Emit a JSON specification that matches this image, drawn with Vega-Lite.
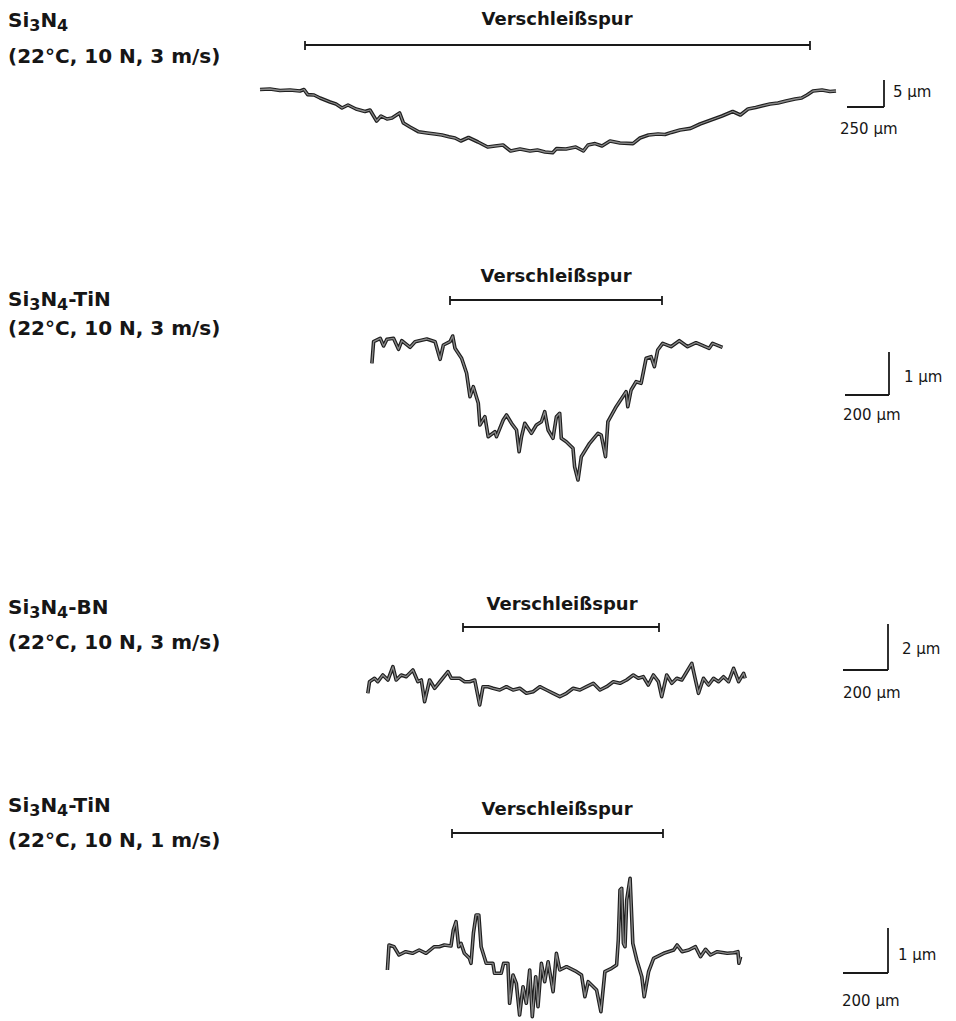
{
  "$schema": "https://vega.github.io/schema/vega-lite/v6.json",
  "width": 956,
  "height": 1021,
  "autosize": {"type": "none"},
  "padding": 0,
  "background": "white",
  "config": {"view": {"stroke": null}},
  "datasets": {
    "traces": [
      {"panel":1,"i":1,"x":260,"y":89.5},{"panel":1,"i":2,"x":270,"y":89},{"panel":1,"i":3,"x":280,"y":90.5},{"panel":1,"i":4,"x":290,"y":90},{"panel":1,"i":5,"x":300,"y":91},{"panel":1,"i":6,"x":304,"y":89.5},{"panel":1,"i":7,"x":307.7,"y":94.6},{"panel":1,"i":8,"x":314,"y":95},{"panel":1,"i":9,"x":320,"y":98},{"panel":1,"i":10,"x":330,"y":102},{"panel":1,"i":11,"x":336,"y":104},{"panel":1,"i":12,"x":342,"y":108},{"panel":1,"i":13,"x":348,"y":105},{"panel":1,"i":14,"x":356,"y":109},{"panel":1,"i":15,"x":365,"y":111.5},{"panel":1,"i":16,"x":370,"y":110},{"panel":1,"i":17,"x":376.6,"y":121},{"panel":1,"i":18,"x":381,"y":116},{"panel":1,"i":19,"x":387,"y":119},{"panel":1,"i":20,"x":392,"y":118},{"panel":1,"i":21,"x":399.6,"y":113},{"panel":1,"i":22,"x":403.4,"y":123},{"panel":1,"i":23,"x":410,"y":127},{"panel":1,"i":24,"x":418.7,"y":131.8},{"panel":1,"i":25,"x":427,"y":133},{"panel":1,"i":26,"x":435,"y":134},{"panel":1,"i":27,"x":442,"y":135},{"panel":1,"i":28,"x":449,"y":136.8},{"panel":1,"i":29,"x":455,"y":138},{"panel":1,"i":30,"x":460.8,"y":141},{"panel":1,"i":31,"x":468.5,"y":137.5},{"panel":1,"i":32,"x":478,"y":142},{"panel":1,"i":33,"x":487.6,"y":147},{"panel":1,"i":34,"x":495,"y":146},{"panel":1,"i":35,"x":503,"y":145},{"panel":1,"i":36,"x":510.6,"y":151},{"panel":1,"i":37,"x":520,"y":149},{"panel":1,"i":38,"x":530,"y":151},{"panel":1,"i":39,"x":537.4,"y":150},{"panel":1,"i":40,"x":545,"y":152},{"panel":1,"i":41,"x":552.7,"y":152.7},{"panel":1,"i":42,"x":556.6,"y":148.6},{"panel":1,"i":43,"x":566,"y":149},{"panel":1,"i":44,"x":575.7,"y":147},{"panel":1,"i":45,"x":583.4,"y":151},{"panel":1,"i":46,"x":588,"y":145},{"panel":1,"i":47,"x":595,"y":143.6},{"panel":1,"i":48,"x":602,"y":146},{"panel":1,"i":49,"x":610,"y":141},{"panel":1,"i":50,"x":620,"y":143},{"panel":1,"i":51,"x":633,"y":143.6},{"panel":1,"i":52,"x":640,"y":138},{"panel":1,"i":53,"x":648.5,"y":135},{"panel":1,"i":54,"x":658,"y":134},{"panel":1,"i":55,"x":665,"y":134.5},{"panel":1,"i":56,"x":671.4,"y":132.4},{"panel":1,"i":57,"x":680,"y":130},{"panel":1,"i":58,"x":690.6,"y":128.4},{"panel":1,"i":59,"x":700,"y":124},{"panel":1,"i":60,"x":711,"y":120},{"panel":1,"i":61,"x":722,"y":116},{"panel":1,"i":62,"x":732.7,"y":111.5},{"panel":1,"i":63,"x":740.4,"y":115},{"panel":1,"i":64,"x":748,"y":109},{"panel":1,"i":65,"x":755.7,"y":107.4},{"panel":1,"i":66,"x":770,"y":104},{"panel":1,"i":67,"x":778,"y":103},{"panel":1,"i":68,"x":786,"y":101},{"panel":1,"i":69,"x":795,"y":99},{"panel":1,"i":70,"x":801.6,"y":98},{"panel":1,"i":71,"x":807,"y":95},{"panel":1,"i":72,"x":813,"y":91},{"panel":1,"i":73,"x":822,"y":90},{"panel":1,"i":74,"x":830,"y":91.5},{"panel":1,"i":75,"x":836,"y":91},

      {"panel":2,"i":1,"x":371.9,"y":363.3},{"panel":2,"i":2,"x":373.6,"y":341.7},{"panel":2,"i":3,"x":380.2,"y":338.3},{"panel":2,"i":4,"x":383.6,"y":346},{"panel":2,"i":5,"x":386.9,"y":339.3},{"panel":2,"i":6,"x":393.5,"y":338.3},{"panel":2,"i":7,"x":398.5,"y":349.3},{"panel":2,"i":8,"x":401.8,"y":340.7},{"panel":2,"i":9,"x":410.1,"y":347.3},{"panel":2,"i":10,"x":415.1,"y":341.7},{"panel":2,"i":11,"x":426.8,"y":339},{"panel":2,"i":12,"x":435.1,"y":341.7},{"panel":2,"i":13,"x":440.1,"y":359.3},{"panel":2,"i":14,"x":443.4,"y":345},{"panel":2,"i":15,"x":450,"y":341.7},{"panel":2,"i":16,"x":452.7,"y":336},{"panel":2,"i":17,"x":455,"y":348.3},{"panel":2,"i":18,"x":461.6,"y":358.3},{"panel":2,"i":19,"x":466.6,"y":373.3},{"panel":2,"i":20,"x":470,"y":396.7},{"panel":2,"i":21,"x":473.3,"y":386.7},{"panel":2,"i":22,"x":478.3,"y":403.3},{"panel":2,"i":23,"x":479.9,"y":425},{"panel":2,"i":24,"x":484.9,"y":416.7},{"panel":2,"i":25,"x":488.2,"y":436.7},{"panel":2,"i":26,"x":494.9,"y":431.7},{"panel":2,"i":27,"x":496.5,"y":436.7},{"panel":2,"i":28,"x":503.2,"y":420},{"panel":2,"i":29,"x":506.5,"y":415},{"panel":2,"i":30,"x":511.5,"y":423.3},{"panel":2,"i":31,"x":516.5,"y":430},{"panel":2,"i":32,"x":519.1,"y":451.7},{"panel":2,"i":33,"x":521.5,"y":436.7},{"panel":2,"i":34,"x":524.8,"y":423.3},{"panel":2,"i":35,"x":531.4,"y":433.3},{"panel":2,"i":36,"x":536.4,"y":425},{"panel":2,"i":37,"x":541.4,"y":421.7},{"panel":2,"i":38,"x":544.7,"y":411.7},{"panel":2,"i":39,"x":548.1,"y":430},{"panel":2,"i":40,"x":553,"y":438.3},{"panel":2,"i":41,"x":556.4,"y":416.7},{"panel":2,"i":42,"x":559.7,"y":413.3},{"panel":2,"i":43,"x":561.3,"y":438.3},{"panel":2,"i":44,"x":566.3,"y":441.7},{"panel":2,"i":45,"x":573,"y":448.3},{"panel":2,"i":46,"x":574.6,"y":466.7},{"panel":2,"i":47,"x":578,"y":480},{"panel":2,"i":48,"x":581.3,"y":456.7},{"panel":2,"i":49,"x":589.6,"y":443.3},{"panel":2,"i":50,"x":597.9,"y":433.3},{"panel":2,"i":51,"x":601.2,"y":435},{"panel":2,"i":52,"x":605.5,"y":456.7},{"panel":2,"i":53,"x":607.9,"y":421.7},{"panel":2,"i":54,"x":616.2,"y":406.7},{"panel":2,"i":55,"x":622.8,"y":396.7},{"panel":2,"i":56,"x":626.1,"y":391.7},{"panel":2,"i":57,"x":627.8,"y":406.7},{"panel":2,"i":58,"x":631.1,"y":390},{"panel":2,"i":59,"x":636.1,"y":381.7},{"panel":2,"i":60,"x":641.1,"y":383.3},{"panel":2,"i":61,"x":646.1,"y":358.3},{"panel":2,"i":62,"x":651.1,"y":356.7},{"panel":2,"i":63,"x":654.4,"y":366.7},{"panel":2,"i":64,"x":657.7,"y":350},{"panel":2,"i":65,"x":662.7,"y":343.3},{"panel":2,"i":66,"x":671,"y":346.7},{"panel":2,"i":67,"x":679.3,"y":340.7},{"panel":2,"i":68,"x":687.6,"y":346.7},{"panel":2,"i":69,"x":696,"y":342.7},{"panel":2,"i":70,"x":709.2,"y":348.3},{"panel":2,"i":71,"x":712.6,"y":343.3},{"panel":2,"i":72,"x":722.5,"y":347.3},

      {"panel":3,"i":1,"x":367.8,"y":693.3},{"panel":3,"i":2,"x":369.5,"y":681.7},{"panel":3,"i":3,"x":374.5,"y":678.3},{"panel":3,"i":4,"x":377.8,"y":681.7},{"panel":3,"i":5,"x":382.8,"y":675},{"panel":3,"i":6,"x":387.9,"y":680},{"panel":3,"i":7,"x":392.9,"y":666.7},{"panel":3,"i":8,"x":396.2,"y":680},{"panel":3,"i":9,"x":401.2,"y":675},{"panel":3,"i":10,"x":406.2,"y":676.7},{"panel":3,"i":11,"x":412.9,"y":670},{"panel":3,"i":12,"x":417.9,"y":681.7},{"panel":3,"i":13,"x":421.3,"y":680},{"panel":3,"i":14,"x":424.6,"y":701.7},{"panel":3,"i":15,"x":429.6,"y":680},{"panel":3,"i":16,"x":434.6,"y":688.3},{"panel":3,"i":17,"x":441.3,"y":680},{"panel":3,"i":18,"x":448,"y":671.7},{"panel":3,"i":19,"x":451.3,"y":678.3},{"panel":3,"i":20,"x":459.6,"y":678.3},{"panel":3,"i":21,"x":464.7,"y":681.7},{"panel":3,"i":22,"x":469.7,"y":681.7},{"panel":3,"i":23,"x":474.7,"y":680},{"panel":3,"i":24,"x":479.7,"y":705},{"panel":3,"i":25,"x":483,"y":686.7},{"panel":3,"i":26,"x":488,"y":686.7},{"panel":3,"i":27,"x":493,"y":688.3},{"panel":3,"i":28,"x":499.7,"y":690},{"panel":3,"i":29,"x":506.4,"y":686.7},{"panel":3,"i":30,"x":513.1,"y":690},{"panel":3,"i":31,"x":519.8,"y":688.3},{"panel":3,"i":32,"x":526.4,"y":693.3},{"panel":3,"i":33,"x":533.1,"y":691.7},{"panel":3,"i":34,"x":539.8,"y":686.7},{"panel":3,"i":35,"x":546.5,"y":690},{"panel":3,"i":36,"x":553.2,"y":693.3},{"panel":3,"i":37,"x":559.8,"y":696.7},{"panel":3,"i":38,"x":566.5,"y":693.3},{"panel":3,"i":39,"x":573.2,"y":688.3},{"panel":3,"i":40,"x":579.9,"y":690},{"panel":3,"i":41,"x":586.6,"y":686.7},{"panel":3,"i":42,"x":593.3,"y":683.3},{"panel":3,"i":43,"x":600,"y":690},{"panel":3,"i":44,"x":606.6,"y":686.7},{"panel":3,"i":45,"x":613.3,"y":681.7},{"panel":3,"i":46,"x":620,"y":683.3},{"panel":3,"i":47,"x":626.6,"y":680},{"panel":3,"i":48,"x":633.3,"y":675},{"panel":3,"i":49,"x":638.3,"y":678.3},{"panel":3,"i":50,"x":643.3,"y":676.7},{"panel":3,"i":51,"x":648.3,"y":685},{"panel":3,"i":52,"x":653.4,"y":675},{"panel":3,"i":53,"x":658.4,"y":681.7},{"panel":3,"i":54,"x":661.7,"y":696.7},{"panel":3,"i":55,"x":666.7,"y":675},{"panel":3,"i":56,"x":671.8,"y":683.3},{"panel":3,"i":57,"x":676.8,"y":678.3},{"panel":3,"i":58,"x":681.8,"y":680},{"panel":3,"i":59,"x":686.8,"y":671.7},{"panel":3,"i":60,"x":691.8,"y":663.3},{"panel":3,"i":61,"x":695.1,"y":678.3},{"panel":3,"i":62,"x":698.5,"y":693.3},{"panel":3,"i":63,"x":703.5,"y":678.3},{"panel":3,"i":64,"x":708.5,"y":685},{"panel":3,"i":65,"x":713.5,"y":678.3},{"panel":3,"i":66,"x":718.5,"y":681.7},{"panel":3,"i":67,"x":723.5,"y":676.7},{"panel":3,"i":68,"x":728.6,"y":681.7},{"panel":3,"i":69,"x":733.6,"y":668.3},{"panel":3,"i":70,"x":738.6,"y":681.7},{"panel":3,"i":71,"x":743.6,"y":673.3},{"panel":3,"i":72,"x":745.2,"y":678.3},

      {"panel":4,"i":1,"x":387.4,"y":970},{"panel":4,"i":2,"x":389,"y":945},{"panel":4,"i":3,"x":394,"y":946.7},{"panel":4,"i":4,"x":399,"y":955},{"panel":4,"i":5,"x":405.7,"y":951.7},{"panel":4,"i":6,"x":412.5,"y":953.3},{"panel":4,"i":7,"x":419.2,"y":950},{"panel":4,"i":8,"x":426,"y":953.3},{"panel":4,"i":9,"x":434.3,"y":946.7},{"panel":4,"i":10,"x":439.3,"y":946.7},{"panel":4,"i":11,"x":444.3,"y":945},{"panel":4,"i":12,"x":451,"y":946},{"panel":4,"i":13,"x":453.3,"y":930},{"panel":4,"i":14,"x":456,"y":921.7},{"panel":4,"i":15,"x":458.7,"y":946.7},{"panel":4,"i":16,"x":461,"y":943.3},{"panel":4,"i":17,"x":464.4,"y":953.3},{"panel":4,"i":18,"x":469.4,"y":958.3},{"panel":4,"i":19,"x":471,"y":963.3},{"panel":4,"i":20,"x":473.4,"y":933.3},{"panel":4,"i":21,"x":476.1,"y":915},{"panel":4,"i":22,"x":478.8,"y":915},{"panel":4,"i":23,"x":481.1,"y":946.7},{"panel":4,"i":24,"x":486.2,"y":963.3},{"panel":4,"i":25,"x":492.9,"y":963.3},{"panel":4,"i":26,"x":494.5,"y":973.3},{"panel":4,"i":27,"x":501.2,"y":973.3},{"panel":4,"i":28,"x":503.6,"y":963.3},{"panel":4,"i":29,"x":507.9,"y":963.3},{"panel":4,"i":30,"x":509.6,"y":1003.3},{"panel":4,"i":31,"x":513,"y":975},{"panel":4,"i":32,"x":516.3,"y":983.3},{"panel":4,"i":33,"x":519.6,"y":1015},{"panel":4,"i":34,"x":523,"y":986.7},{"panel":4,"i":35,"x":526.3,"y":1003.3},{"panel":4,"i":36,"x":529.7,"y":970},{"panel":4,"i":37,"x":532.3,"y":1016.7},{"panel":4,"i":38,"x":535.7,"y":976.7},{"panel":4,"i":39,"x":538,"y":1006.7},{"panel":4,"i":40,"x":541.4,"y":963.3},{"panel":4,"i":41,"x":544.7,"y":981.7},{"panel":4,"i":42,"x":548.1,"y":961.7},{"panel":4,"i":43,"x":553.1,"y":991.7},{"panel":4,"i":44,"x":556.4,"y":953.3},{"panel":4,"i":45,"x":559.8,"y":970},{"panel":4,"i":46,"x":566.5,"y":966.7},{"panel":4,"i":47,"x":576.5,"y":971.7},{"panel":4,"i":48,"x":581.5,"y":975},{"panel":4,"i":49,"x":584.9,"y":996.7},{"panel":4,"i":50,"x":588.2,"y":981.7},{"panel":4,"i":51,"x":596.6,"y":990},{"panel":4,"i":52,"x":600.9,"y":1011.7},{"panel":4,"i":53,"x":604.9,"y":971.7},{"panel":4,"i":54,"x":611.6,"y":968.3},{"panel":4,"i":55,"x":616.6,"y":965},{"panel":4,"i":56,"x":618.3,"y":940},{"panel":4,"i":57,"x":620,"y":890},{"panel":4,"i":58,"x":621.7,"y":888.3},{"panel":4,"i":59,"x":623.4,"y":943.3},{"panel":4,"i":60,"x":625,"y":946.7},{"panel":4,"i":61,"x":626.7,"y":900},{"panel":4,"i":62,"x":630.1,"y":878.3},{"panel":4,"i":63,"x":632.8,"y":943.3},{"panel":4,"i":64,"x":636.8,"y":960},{"panel":4,"i":65,"x":641.8,"y":976.7},{"panel":4,"i":66,"x":644.2,"y":996.7},{"panel":4,"i":67,"x":648.6,"y":971.7},{"panel":4,"i":68,"x":653.6,"y":958.3},{"panel":4,"i":69,"x":663.7,"y":953.3},{"panel":4,"i":70,"x":673.7,"y":950},{"panel":4,"i":71,"x":677.1,"y":945},{"panel":4,"i":72,"x":682.1,"y":951.7},{"panel":4,"i":73,"x":688.8,"y":950},{"panel":4,"i":74,"x":695.5,"y":946.7},{"panel":4,"i":75,"x":700.5,"y":956.7},{"panel":4,"i":76,"x":705.5,"y":949.3},{"panel":4,"i":77,"x":710.5,"y":955},{"panel":4,"i":78,"x":717.2,"y":951.7},{"panel":4,"i":79,"x":727.2,"y":953.3},{"panel":4,"i":80,"x":733.9,"y":952.7},{"panel":4,"i":81,"x":737.9,"y":951.7},{"panel":4,"i":82,"x":738.9,"y":963.3},{"panel":4,"i":83,"x":740.6,"y":956.7}
    ],
    "segments": [
      {"x":305,"x2":810,"y":45,"y2":45},{"x":305,"x2":305,"y":41,"y2":50},{"x":810,"x2":810,"y":41,"y2":50},
      {"x":450,"x2":662,"y":300,"y2":300},{"x":450,"x2":450,"y":296,"y2":305},{"x":662,"x2":662,"y":296,"y2":305},
      {"x":463,"x2":659,"y":627,"y2":627},{"x":463,"x2":463,"y":623,"y2":632},{"x":659,"x2":659,"y":623,"y2":632},
      {"x":452,"x2":663,"y":833,"y2":833},{"x":452,"x2":452,"y":829,"y2":838},{"x":663,"x2":663,"y":829,"y2":838},
      {"x":847,"x2":884,"y":107,"y2":107},{"x":884,"x2":884,"y":80,"y2":107},
      {"x":845,"x2":889,"y":395,"y2":395},{"x":889,"x2":889,"y":352,"y2":395},
      {"x":843,"x2":888,"y":670,"y2":670},{"x":888,"x2":888,"y":624,"y2":670},
      {"x":843,"x2":888,"y":973,"y2":973},{"x":888,"x2":888,"y":928,"y2":973}
    ],
    "labels": [
      {"x":8,"y":21,"text":"Si"},{"x":40.4,"y":21,"text":"N"},
      {"x":8,"y":57,"text":"(22°C, 10 N, 3 m/s)"},
      {"x":8,"y":300,"text":"Si"},{"x":40.4,"y":300,"text":"N"},{"x":68.2,"y":300,"text":"-TiN"},
      {"x":8,"y":329,"text":"(22°C, 10 N, 3 m/s)"},
      {"x":8,"y":608,"text":"Si"},{"x":40.4,"y":608,"text":"N"},{"x":68.2,"y":608,"text":"-BN"},
      {"x":8,"y":643,"text":"(22°C, 10 N, 3 m/s)"},
      {"x":8,"y":806,"text":"Si"},{"x":40.4,"y":806,"text":"N"},{"x":68.2,"y":806,"text":"-TiN"},
      {"x":8,"y":841,"text":"(22°C, 10 N, 1 m/s)"}
    ],
    "subs": [
      {"x":29.3,"y":26,"text":"3"},{"x":57.1,"y":26,"text":"4"},
      {"x":29.3,"y":305,"text":"3"},{"x":57.1,"y":305,"text":"4"},
      {"x":29.3,"y":613,"text":"3"},{"x":57.1,"y":613,"text":"4"},
      {"x":29.3,"y":811,"text":"3"},{"x":57.1,"y":811,"text":"4"}
    ],
    "titles": [
      {"x":557,"y":20,"text":"Verschleißspur"},
      {"x":556,"y":277,"text":"Verschleißspur"},
      {"x":562,"y":605,"text":"Verschleißspur"},
      {"x":557,"y":810,"text":"Verschleißspur"}
    ],
    "scaletext": [
      {"x":893,"y":92,"text":"5 µm"},
      {"x":840,"y":129,"text":"250 µm"},
      {"x":904,"y":377,"text":"1 µm"},
      {"x":843,"y":415,"text":"200 µm"},
      {"x":902,"y":649,"text":"2 µm"},
      {"x":843,"y":693,"text":"200 µm"},
      {"x":898,"y":955,"text":"1 µm"},
      {"x":842,"y":1001,"text":"200 µm"}
    ]
  },
  "layer": [
    {
      "data": {"name": "segments"},
      "mark": {"type": "rule", "color": "#1a1a1a", "strokeWidth": 1.8},
      "encoding": {
        "x": {"field": "x", "type": "quantitative", "scale": {"domain": [0, 956], "nice": false, "zero": false}, "axis": null},
        "x2": {"field": "x2"},
        "y": {"field": "y", "type": "quantitative", "scale": {"domain": [0, 1021], "nice": false, "zero": false, "reverse": true}, "axis": null},
        "y2": {"field": "y2"}
      }
    },
    {
      "data": {"name": "traces"},
      "mark": {"type": "line", "color": "#1e1e1e", "strokeWidth": 3.6, "strokeJoin": "round"},
      "encoding": {
        "x": {"field": "x", "type": "quantitative"},
        "y": {"field": "y", "type": "quantitative"},
        "detail": {"field": "panel"},
        "order": {"field": "i"}
      }
    },
    {
      "data": {"name": "traces"},
      "mark": {"type": "line", "color": "#8a8a8a", "strokeWidth": 1.3, "strokeJoin": "round"},
      "encoding": {
        "x": {"field": "x", "type": "quantitative"},
        "y": {"field": "y", "type": "quantitative"},
        "detail": {"field": "panel"},
        "order": {"field": "i"}
      }
    },
    {
      "data": {"name": "labels"},
      "mark": {"type": "text", "font": "DejaVu Sans", "fontSize": 20, "fontWeight": "bold", "color": "#161616", "align": "left", "baseline": "middle"},
      "encoding": {
        "x": {"field": "x", "type": "quantitative"},
        "y": {"field": "y", "type": "quantitative"},
        "text": {"field": "text"}
      }
    },
    {
      "data": {"name": "subs"},
      "mark": {"type": "text", "font": "DejaVu Sans", "fontSize": 16, "fontWeight": "bold", "color": "#161616", "align": "left", "baseline": "middle"},
      "encoding": {
        "x": {"field": "x", "type": "quantitative"},
        "y": {"field": "y", "type": "quantitative"},
        "text": {"field": "text"}
      }
    },
    {
      "data": {"name": "titles"},
      "mark": {"type": "text", "font": "DejaVu Sans", "fontSize": 18, "fontWeight": "bold", "color": "#161616", "align": "center", "baseline": "middle"},
      "encoding": {
        "x": {"field": "x", "type": "quantitative"},
        "y": {"field": "y", "type": "quantitative"},
        "text": {"field": "text"}
      }
    },
    {
      "data": {"name": "scaletext"},
      "mark": {"type": "text", "font": "DejaVu Sans", "fontSize": 15, "color": "#161616", "align": "left", "baseline": "middle"},
      "encoding": {
        "x": {"field": "x", "type": "quantitative"},
        "y": {"field": "y", "type": "quantitative"},
        "text": {"field": "text"}
      }
    }
  ]
}
